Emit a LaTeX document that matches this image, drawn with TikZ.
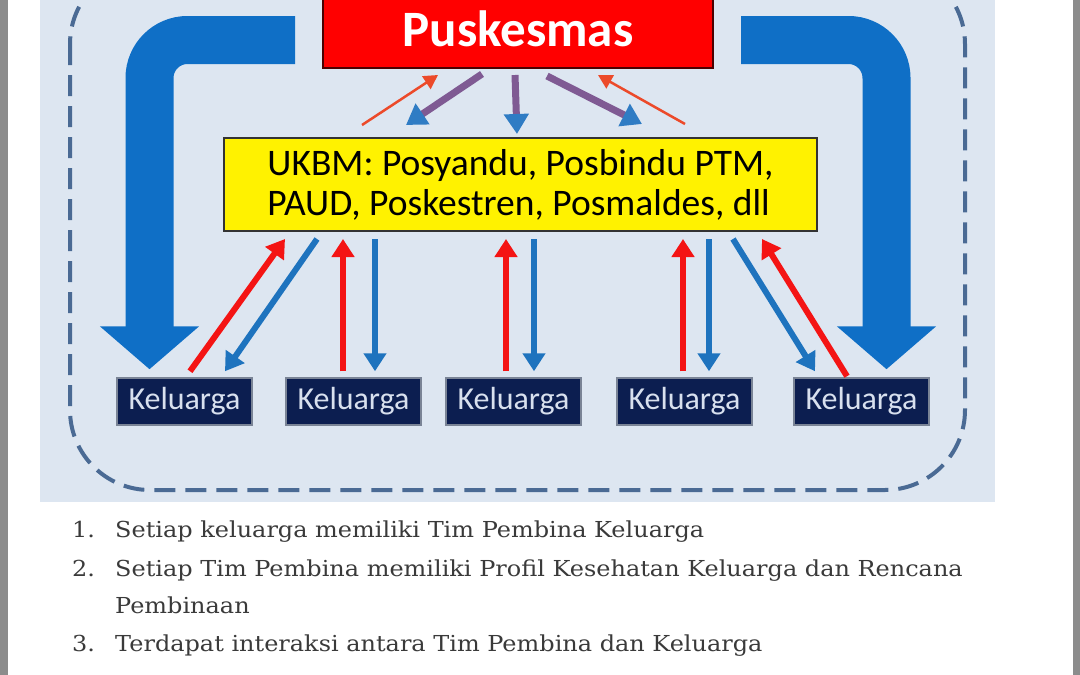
\documentclass[tikz,border=0pt]{standalone}
\usepackage{fontspec}
\setmainfont{DejaVu Serif}
\newfontfamily\listfont[FakeStretch=1.09]{DejaVu Serif}
\newfontfamily\carlito{Carlito}
\usetikzlibrary{arrows.meta}
\definecolor{panel}{HTML}{DDE6F1}
\definecolor{frame}{HTML}{4A6A94}
\definecolor{bigblue}{HTML}{0F6FC6}
\definecolor{merah}{HTML}{F41414}
\definecolor{biru}{HTML}{1E73BE}
\definecolor{ungu}{HTML}{7F5A93}
\definecolor{headblue}{HTML}{2F7CC4}
\definecolor{jingga}{HTML}{EC4A2A}
\definecolor{navy}{HTML}{0C1E50}
\definecolor{kelborder}{HTML}{7A8496}
\definecolor{keltext}{HTML}{D8E0EE}
\definecolor{listtext}{HTML}{3A3A3A}
\begin{document}
\begin{tikzpicture}[x=1pt,y=-1pt,
  keluarga/.style={draw=kelborder, line width=1.5pt, fill=navy, text=keltext,
    minimum width=135pt, minimum height=47pt, inner sep=0pt,
    font=\carlito\fontsize{32}{36}\selectfont},
  naik/.style={draw=merah, line width=6pt, -{Triangle[length=18pt,width=22pt]}},
  turun/.style={draw=biru, line width=6pt, -{Triangle[length=18pt,width=22pt]}},
  tebal/.style={draw=ungu, line width=7pt, -{Triangle[length=20pt,width=24pt,color=headblue]}},
  tipis/.style={draw=jingga, line width=2.5pt, -{Triangle[length=14pt,width=15pt]}},
  besar/.style={draw=bigblue, line width=48pt, rounded corners=38pt,
    -{Triangle[length=43pt,width=97pt]}},
  daftar/.style={anchor=base west, inner sep=0pt, text=listtext,
    font=\listfont\fontsize{22}{26}\selectfont}]
  \useasboundingbox (0,0) rectangle (1080,675);
  \fill[gray!90] (0,0) rectangle (8,675);
  \fill[gray!90] (1073,0) rectangle (1080,675);
  \fill[panel] (40,0) rectangle (995,502);
  \draw[frame, line width=4pt, dash pattern=on 21pt off 10pt, rounded corners=80pt]
    (70,-36) rectangle (965,490);

  % nodes
  \node[draw=black!70!red, line width=2pt, fill=red, text=white, minimum width=390pt,
    minimum height=78pt, inner sep=0pt, font=\carlito\bfseries\fontsize{51}{56}\selectfont]
    (pusk) at (518,29) {Puskesmas};
  \node[draw=black!80, line width=2pt, fill=yellow, minimum width=593pt, minimum height=93pt,
    inner sep=0pt, align=left, font=\carlito\fontsize{37.5}{40}\selectfont]
    (ukbm) at (520.5,184.5) {UKBM: Posyandu, Posbindu PTM,\\PAUD, Poskestren, Posmaldes, dll};
  \node[keluarga] (k1) at (184.5,401.5) {Keluarga};
  \node[keluarga] (k2) at (353.5,401.5) {Keluarga};
  \node[keluarga] (k3) at (513.5,401.5) {Keluarga};
  \node[keluarga] (k4) at (684.5,401.5) {Keluarga};
  \node[keluarga] (k5) at (861.5,401.5) {Keluarga};

  % big arrows
  \coordinate (lstart) at (295,40);
  \coordinate (rstart) at (741,40);
  \draw[besar] (lstart) -| ([xshift=-35pt,yshift=8pt]k1.north);
  \draw[besar] (rstart) -| ([xshift=25pt,yshift=8pt]k5.north);

  % puskesmas <-> ukbm
  \draw[tipis] ([xshift=-158.5pt,yshift=12pt]ukbm.north) -- ([xshift=-80pt,yshift=-6pt]pusk.south);
  \draw[tebal] ([xshift=-36pt,yshift=-5pt]pusk.south) -- ([xshift=-114.5pt,yshift=12pt]ukbm.north);
  \draw[tebal] ([xshift=-3pt,yshift=-6pt]pusk.south) -- ([xshift=-3.5pt,yshift=3pt]ukbm.north);
  \draw[tebal] ([xshift=29pt,yshift=-7pt]pusk.south) -- ([xshift=121.5pt,yshift=13pt]ukbm.north);
  \draw[tipis] ([xshift=164.5pt,yshift=13pt]ukbm.north) -- ([xshift=80pt,yshift=-6pt]pusk.south);

  % ukbm <-> keluarga
  \draw[naik] ([xshift=5.5pt,yshift=6pt]k1.north) -- ([xshift=-235.5pt,yshift=-7pt]ukbm.south);
  \draw[turun] ([xshift=-203.5pt,yshift=-7pt]ukbm.south) -- ([xshift=40.5pt,yshift=6pt]k1.north);
  \draw[naik] ([xshift=-10.5pt,yshift=6pt]k2.north) -- ([xshift=-177.5pt,yshift=-7pt]ukbm.south);
  \draw[turun] ([xshift=-145.5pt,yshift=-7pt]ukbm.south) -- ([xshift=21.5pt,yshift=6pt]k2.north);
  \draw[naik] ([xshift=-7.5pt,yshift=6pt]k3.north) -- ([xshift=-14.5pt,yshift=-7pt]ukbm.south);
  \draw[turun] ([xshift=13.5pt,yshift=-7pt]ukbm.south) -- ([xshift=20.5pt,yshift=6pt]k3.north);
  \draw[naik] ([xshift=-1.5pt,yshift=6pt]k4.north) -- ([xshift=162.5pt,yshift=-7pt]ukbm.south);
  \draw[turun] ([xshift=188.5pt,yshift=-7pt]ukbm.south) -- ([xshift=24.5pt,yshift=6pt]k4.north);
  \draw[turun] ([xshift=212.5pt,yshift=-7pt]ukbm.south) -- ([xshift=-46.5pt,yshift=6pt]k5.north);
  \draw[naik] ([xshift=-14.5pt,yshift=1pt]k5.north) -- ([xshift=241.5pt,yshift=-7pt]ukbm.south);

  % list
  \node[daftar] (n1) at (72,537) {1.};
  \node[daftar] (t1) at (115,537) {Setiap keluarga memiliki Tim Pembina Keluarga};
  \node[daftar] (n2) at (72,576) {2.};
  \node[daftar] (t2) at (115,576) {Setiap Tim Pembina memiliki Profil Kesehatan Keluarga dan Rencana};
  \node[daftar] (t2b) at (115,613) {Pembinaan};
  \node[daftar] (n3) at (72,651) {3.};
  \node[daftar] (t3) at (115,651) {Terdapat interaksi antara Tim Pembina dan Keluarga};
\end{tikzpicture}
\end{document}
